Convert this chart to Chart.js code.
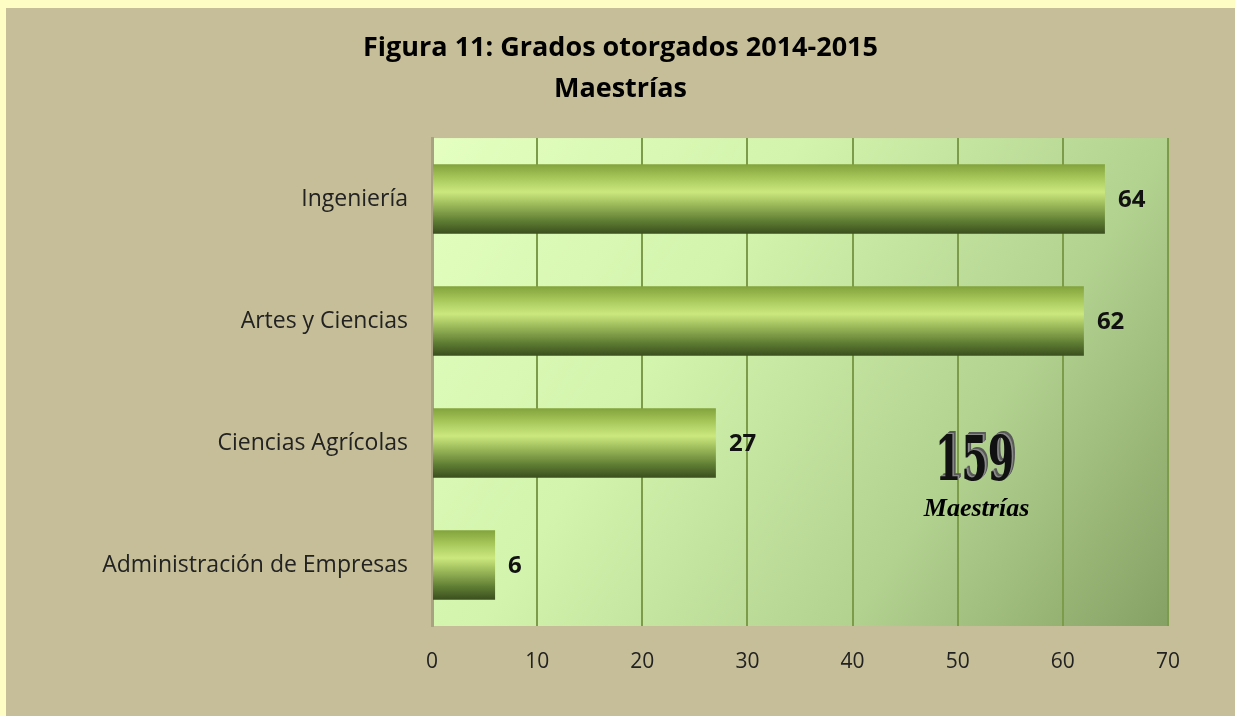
<!DOCTYPE html>
<html><head><meta charset="utf-8">
<script src="https://cdn.jsdelivr.net/npm/chart.js@4/dist/chart.umd.min.js"></script>
<style>
html,body{margin:0;padding:0;background:#fdfdc4;width:1235px;height:716px;overflow:hidden}
#wrap{position:absolute;left:6px;top:8px;width:1229px;height:708px;background:#c5be98}
</style></head><body>
<div id="wrap"><canvas id="c" width="1229" height="708"></canvas></div>
<script>
const titleLines = ['Figura 11: Grados otorgados 2014-2015', 'Maestrías'];
const categories = ['Ingeniería', 'Artes y Ciencias', 'Ciencias Agrícolas', 'Administración de Empresas'];
const values = [64, 62, 27, 6];
const xTicks = [0, 10, 20, 30, 40, 50, 60, 70];
const totalLabel = 'Maestrías';
const total = values.reduce((a, b) => a + b, 0);

const catPct = 0.57;

function barGradient(ctx) {
  const chart = ctx.chart;
  const ys = chart.scales.y;
  if (!chart.chartArea || !ys) return '#9ab850';
  const c = ys.getPixelForValue(ctx.dataIndex);
  const h = (chart.chartArea.bottom - chart.chartArea.top) / categories.length * catPct;
  const g = chart.ctx.createLinearGradient(0, c - h / 2, 0, c + h / 2);
  g.addColorStop(0, '#82a23c');
  g.addColorStop(0.18, '#a4c458');
  g.addColorStop(0.40, '#cbe87e');
  g.addColorStop(0.58, '#9cba5a');
  g.addColorStop(0.82, '#5e7c32');
  g.addColorStop(1, '#3a4e1e');
  return g;
}

const plotBg = {
  id: 'plotBg',
  beforeDraw(chart) {
    const a = chart.chartArea, ctx = chart.ctx;
    const g = ctx.createLinearGradient(a.left, a.top, a.right, a.bottom);
    g.addColorStop(0, '#e4ffc0');
    g.addColorStop(0.35, '#d2f4ac');
    g.addColorStop(0.7, '#b2d290');
    g.addColorStop(1, '#86a164');
    ctx.save();
    ctx.fillStyle = g;
    ctx.fillRect(a.left, a.top, a.right - a.left, a.bottom - a.top);
    ctx.restore();
  }
};

const valueLabels = {
  id: 'valueLabels',
  afterDatasetsDraw(chart) {
    const ctx = chart.ctx;
    const meta = chart.getDatasetMeta(0);
    ctx.save();
    ctx.font = 'bold 24px "Open Sans", sans-serif';
    ctx.fillStyle = '#111';
    ctx.textAlign = 'left';
    ctx.textBaseline = 'middle';
    meta.data.forEach((el, i) => {
      ctx.fillText(String(values[i]), el.x + 13, el.y + 1);
    });
    ctx.restore();
  }
};

const totalNote = {
  id: 'totalNote',
  afterDraw(chart) {
    const ctx = chart.ctx;
    const xs = chart.scales.x, ys = chart.scales.y;
    const cx = xs.getPixelForValue(51.6);
    const cy = ys.getPixelForValue(2) + 21;
    ctx.save();
    ctx.textAlign = 'center';
    ctx.textBaseline = 'middle';
    ctx.font = 'bold 62px "DejaVu Serif Condensed", "DejaVu Serif", serif';
    ctx.save();
    ctx.translate(cx, cy);
    ctx.scale(0.68, 1);
    for (let k = 4; k >= 1; k--) {
      ctx.fillStyle = k > 2 ? '#5a5a5a' : '#8a8a8a';
      ctx.fillText(String(total), k * 1.2, -k * 0.8);
    }
    ctx.fillStyle = '#111';
    ctx.fillText(String(total), 0, 0);
    ctx.restore();
    ctx.font = 'bold italic 26px "Liberation Serif", serif';
    ctx.fillStyle = '#000';
    ctx.fillText(totalLabel, cx + 2, cy + 45);
    ctx.restore();
  }
};

new Chart(document.getElementById('c'), {
  type: 'bar',
  data: {
    labels: categories,
    datasets: [{
      data: values,
      backgroundColor: barGradient,
      borderWidth: 0,
      categoryPercentage: catPct,
      barPercentage: 1.0
    }]
  },
  options: {
    indexAxis: 'y',
    responsive: false,
    animation: false,
    layout: { padding: 0 },
    plugins: {
      legend: { display: false },
      tooltip: { enabled: false },
      title: {
        display: true,
        text: titleLines,
        color: '#000',
        font: { family: '"Open Sans", sans-serif', size: 27, weight: 'bold', lineHeight: 1.52 },
        padding: { top: 20, bottom: 28 }
      }
    },
    scales: {
      x: {
        min: 0, max: 70,
        afterBuildTicks(scale) { scale.ticks = xTicks.map(v => ({ value: v })); },
        afterFit(scale) { scale.height = 90; },
        grid: { color: '#7c9c4a', lineWidth: 2, drawTicks: false },
        border: { display: false },
        ticks: { color: '#222', padding: 23, font: { family: '"Open Sans", sans-serif', size: 21 } }
      },
      y: {
        afterFit(scale) { scale.width = 426; },
        grid: { display: false, drawTicks: false },
        border: { display: true, color: '#a8a282', width: 3 },
        ticks: { color: '#222', padding: 24, font: { family: '"Open Sans", sans-serif', size: 23 } }
      },
      yRight: {
        position: 'right',
        afterFit(scale) { scale.width = 67; },
        grid: { display: false, drawTicks: false },
        border: { display: false },
        ticks: { display: false }
      }
    }
  },
  plugins: [plotBg, valueLabels, totalNote]
});
</script>
</body></html>
